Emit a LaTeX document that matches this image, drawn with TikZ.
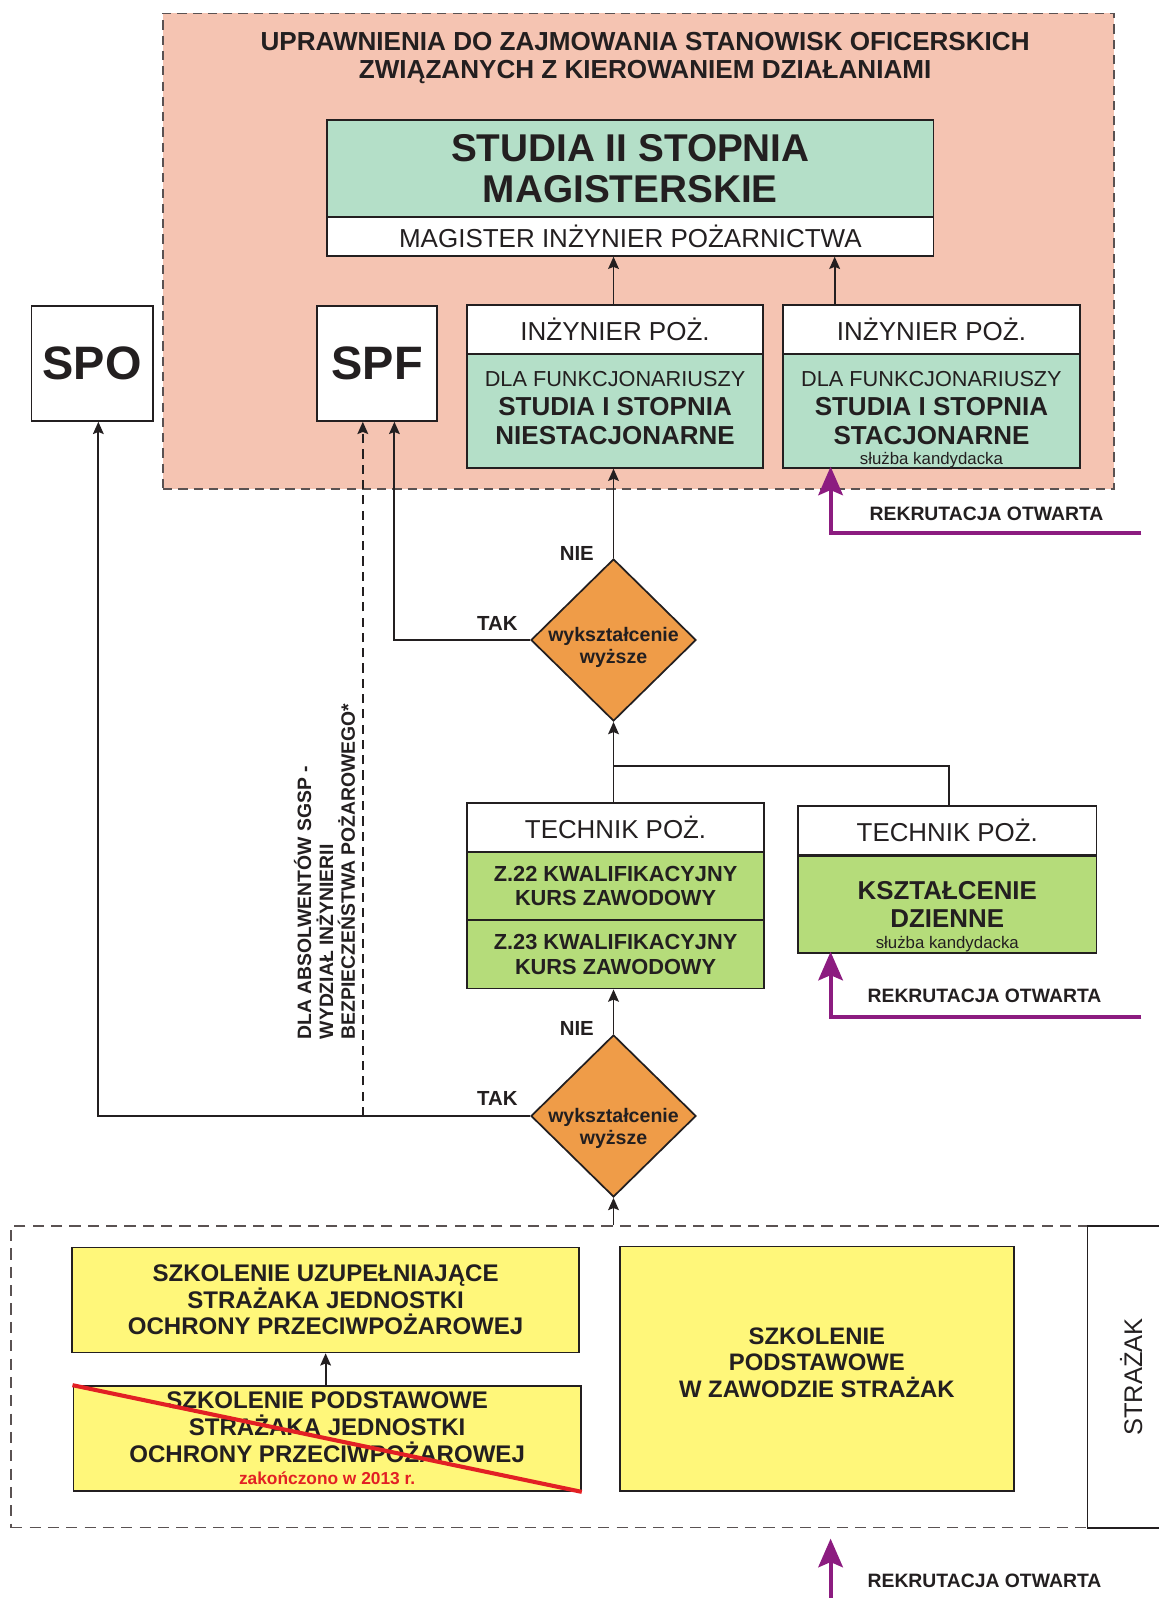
\documentclass[tikz,border=0pt]{standalone}
\usepackage{fontspec}
\setmainfont{Liberation Sans}
\usetikzlibrary{shapes.geometric,arrows.meta}
\definecolor{pinkbg}{RGB}{245,196,178}
\definecolor{tealbox}{RGB}{180,223,200}
\definecolor{lgreen}{RGB}{181,220,122}
\definecolor{orng}{RGB}{239,156,72}
\definecolor{yel}{RGB}{255,247,122}
\definecolor{purp}{RGB}{140,28,128}
\definecolor{redl}{RGB}{226,32,36}
\definecolor{ink}{RGB}{35,31,32}
\definecolor{dashgray}{RGB}{90,82,82}
\newcommand\fs[2]{\fontsize{#1}{#2}\selectfont}
\begin{document}
\begin{tikzpicture}[x=1pt,y=-1pt,
  bx/.style={draw=ink, line width=1.7pt, inner sep=0pt, align=center, text=ink},
  arr/.style={draw=ink, line width=1.8pt, -{Stealth[length=12pt,width=10.5pt,inset=2pt]}},
  ln/.style={draw=ink, line width=1.8pt},
  parr/.style={draw=purp, line width=4pt, -{Stealth[length=28pt,width=24pt,inset=5pt]}},
  lbl/.style={font=\fs{20}{22}\bfseries, text=ink, inner sep=0pt},
  rek/.style={font=\fs{19}{21}\bfseries, text=ink, inner sep=0pt},
  small/.style={font=\fs{16.5}{18}, text=ink, inner sep=0pt},
  btxt/.style={align=center, text=ink, inner sep=0pt},
  dia/.style={diamond, aspect=1, draw=ink, line width=1.7pt, fill=orng, inner sep=0pt, minimum width=162pt, minimum height=159pt},
  dtx/.style={font=\fs{19.2}{22}\bfseries, align=center, text=ink, inner sep=0pt},
  zonebox/.style={draw=dashgray, line width=1.4pt, dash pattern=on 9pt off 6pt, inner sep=0pt}
]
\useasboundingbox (0,0) rectangle (1137,1568);

% top zone
\node[zonebox, fill=pinkbg, minimum width=933pt, minimum height=467pt] (zone) at (626.5,246.5) {};
\node[font=\fs{25.6}{28}\bfseries, align=center, text=ink, inner sep=0pt] (title) at (633,57)
  {UPRAWNIENIA DO ZAJMOWANIA STANOWISK OFICERSKICH\\ZWIĄZANYCH Z KIEROWANIEM DZIAŁANIAMI};

\node[bx, fill=tealbox, minimum width=595pt, minimum height=95pt, font=\fs{38}{41}\bfseries] (stud2) at (618.5,165.5) {STUDIA II STOPNIA\\MAGISTERSKIE};
\node[bx, fill=white, minimum width=595pt, minimum height=38pt, font=\fs{25.5}{28}] (mag) at (618.5,232) {MAGISTER INŻYNIER POŻARNICTWA};

\node[bx, fill=white, minimum width=119pt, minimum height=113pt, font=\fs{46}{50}\bfseries] (spo) at (90.5,356.5) {SPO};
\node[bx, fill=white, minimum width=118pt, minimum height=113pt, font=\fs{46}{50}\bfseries] (spf) at (370,356.5) {SPF};

\node[bx, fill=white, minimum width=291pt, minimum height=48pt, font=\fs{25.5}{28}] (inz1h) at (603.5,323) {INŻYNIER POŻ.};
\node[bx, fill=tealbox, minimum width=291pt, minimum height=112pt] (inz1b) at (603.5,403) {};
\node[btxt, font=\fs{25.5}{28.5}\bfseries] (inz1t) at (603.5,400)
  {{\fs{21.3}{28.5}\mdseries DLA FUNKCJONARIUSZY}\\STUDIA I STOPNIA\\NIESTACJONARNE};
\node[bx, fill=white, minimum width=292pt, minimum height=48pt, font=\fs{25.5}{28}] (inz2h) at (914,323) {INŻYNIER POŻ.};
\node[bx, fill=tealbox, minimum width=292pt, minimum height=112pt] (inz2b) at (914,403) {};
\node[btxt, font=\fs{25.5}{28.5}\bfseries] (inz2t) at (914,400)
  {{\fs{21.3}{28.5}\mdseries DLA FUNKCJONARIUSZY}\\STUDIA I STOPNIA\\STACJONARNE};
\node[small] (inz2s) at (914,451.5) {służba kandydacka};

% technik boxes
\node[bx, fill=white, minimum width=292pt, minimum height=48pt, font=\fs{25.4}{28}] (tech1h) at (604,812) {TECHNIK POŻ.};
\node[bx, fill=lgreen, minimum width=292pt, minimum height=67pt, font=\fs{21.4}{24}\bfseries] (z22) at (604,869.5) {Z.22 KWALIFIKACYJNY\\KURS ZAWODOWY};
\node[bx, fill=lgreen, minimum width=292pt, minimum height=67pt, font=\fs{21.4}{24}\bfseries] (z23) at (604,936.5) {Z.23 KWALIFIKACYJNY\\KURS ZAWODOWY};
\node[bx, fill=white, minimum width=293pt, minimum height=48pt, font=\fs{25.4}{28}] (tech2h) at (929.5,815) {TECHNIK POŻ.};
\node[bx, fill=lgreen, minimum width=293pt, minimum height=95pt, font=\fs{25.4}{27}\bfseries] (tech2b) at (929.5,887.5) {KSZTAŁCENIE\\DZIENNE};
\node[small] (tech2s) at (929.5,926.5) {służba kandydacka};

% diamonds
\node[dia] (d1) at (602,628) {};
\node[dtx] (d1t) at (602,635) {wykształcenie\\wyższe};
\node[dia] (d2) at (602,1095) {};
\node[dtx] (d2t) at (602,1107) {wykształcenie\\wyższe};

\node[lbl] (nie1) at (566,543) {NIE};
\node[lbl] (tak1) at (488,612) {TAK};
\node[lbl] (nie2) at (566,1009) {NIE};
\node[lbl] (tak2) at (488,1078) {TAK};

% bottom zone
\node[draw=dashgray, line width=1.5pt, dash pattern=on 11pt off 7pt, inner sep=0pt, minimum width=1056pt, minimum height=296pt] (dbox) at (539,1351) {};
\node[bx, fill=yel, minimum width=497pt, minimum height=103pt, font=\fs{23.6}{26}\bfseries] (ya) at (319.5,1275.5)
  {SZKOLENIE UZUPEŁNIAJĄCE\\STRAŻAKA JEDNOSTKI\\OCHRONY PRZECIWPOŻAROWEJ};
\node[bx, fill=yel, minimum width=498pt, minimum height=103pt, font=\fs{23.6}{26.5}\bfseries] (yb) at (321,1411.5)
  {SZKOLENIE PODSTAWOWE\\STRAŻAKA JEDNOSTKI\\OCHRONY PRZECIWPOŻAROWEJ\\[-5pt]{\fs{17}{19}\color{redl}zakończono w 2013 r.}};
\draw[redl, line width=4pt] (yb.north west) -- (yb.south east);
\node[bx, fill=yel, minimum width=387pt, minimum height=240pt] (yc) at (801.5,1343) {};
\node[btxt, font=\fs{23.4}{26}\bfseries] (yct) at (801.5,1337) {SZKOLENIE\\PODSTAWOWE\\W ZAWODZIE STRAŻAK};
\node[bx, fill=white, minimum width=90pt, minimum height=296pt] (strz) at (1112,1351) {};
\node[font=\fs{25}{28}, text=ink, inner sep=0pt, rotate=90] (strzt) at (1110,1351) {STRAŻAK};

% rotated note
\node[font=\fs{19}{21.5}\bfseries, align=left, text=ink, inner sep=0pt, rotate=90] (note) at (318.5,855)
  {DLA ABSOLWENTÓW SGSP -\\WYDZIAŁ INŻYNIERII\\BEZPIECZEŃSTWA POŻAROWEGO*};

% connectors
\draw[arr] (inz1h.north -| d1.north) -- (mag.south -| d1.north);
\coordinate (c2) at (819,280);
\draw[arr] (inz2h.north -| c2) -- (mag.south -| c2);
\draw[arr] (d1.north) -- (d1.north |- inz1b.south);
\draw[arr] (d1.west) -| ([xshift=17pt]spf.south);
\draw[arr] (tech1h.north -| d1.south) -- (d1.south);
\coordinate (br) at (602,752);
\draw[ln] (tech2h.north -| 931,0) |- (br);
\draw[arr] (d2.north) -- (d2.north |- z23.south);
\draw[arr] (d2.west) -| ([xshift=6pt]spo.south);
\coordinate (dj) at (356,1095);
\draw[arr, dash pattern=on 9pt off 6pt] (dj) -- (dj |- spf.south);
\draw[arr] (dbox.north -| d2.south) -- (d2.south);
\draw[arr] (yb.north -| ya.south) -- (ya.south);

% open recruitment
\coordinate (p1s) at (1120,523);
\draw[parr] (p1s) -| ([xshift=-99pt,yshift=2pt]inz2b.south);
\node[rek] (rek1) at (968,504) {REKRUTACJA OTWARTA};
\coordinate (p2s) at (1120,998);
\draw[parr] (p2s) -| ([xshift=-114.5pt,yshift=2pt]tech2b.south);
\node[rek] (rek2) at (966,977) {REKRUTACJA OTWARTA};
\coordinate (p3s) at (815,1568);
\draw[parr, shorten >=10pt] (p3s) -- (p3s |- dbox.south);
\node[rek] (rek3) at (966,1551) {REKRUTACJA OTWARTA};
\end{tikzpicture}
\end{document}
